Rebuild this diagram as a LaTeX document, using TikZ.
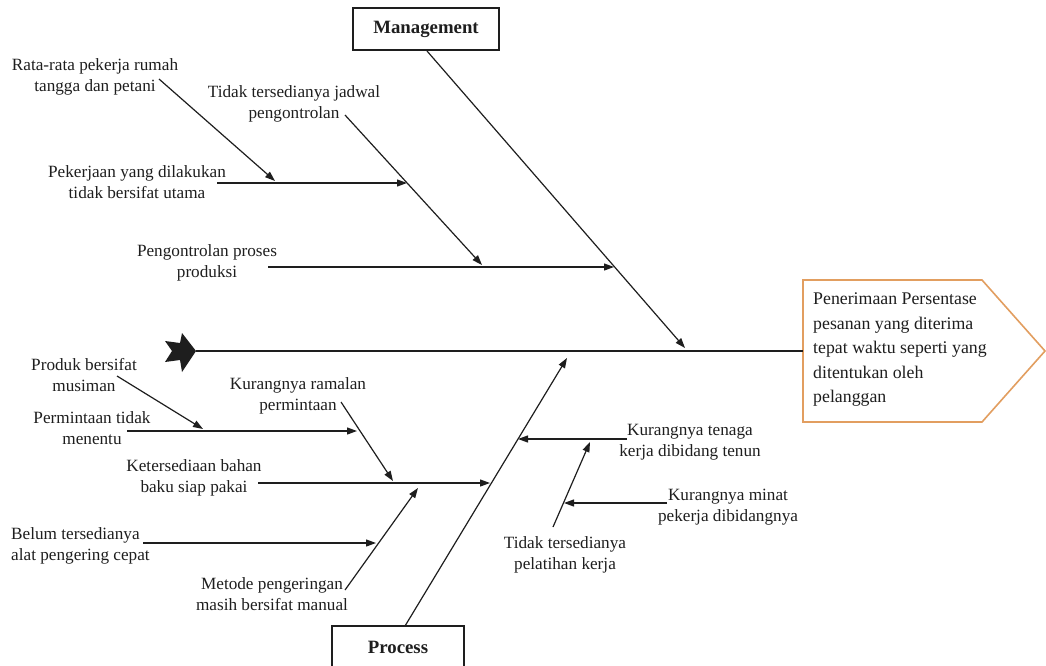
\documentclass[tikz,border=0pt]{standalone}
\usepackage{fontspec}
\setmainfont{Liberation Serif}
\usetikzlibrary{arrows.meta}
\definecolor{effectedge}{RGB}{226,158,96}
\definecolor{ink}{RGB}{30,30,30}
\newcommand\causefont{\fontsize{17.2}{21.5}\selectfont}
\newcommand\effectfont{\fontsize{17.8}{24.5}\selectfont}
\newcommand\catfont{\fontsize{18.8}{22}\selectfont\bfseries}
\begin{document}
\begin{tikzpicture}[x=1pt,y=-1pt,
  bone/.style={draw=ink,line width=1.2pt},
  cause/.style={bone,-{Triangle[length=10pt,width=7pt]}},
  spine/.style={draw=ink,line width=2.6pt},
  lbl/.style={font=\causefont,align=center,inner sep=0pt,text=ink},
  catbox/.style={draw=ink,line width=1.6pt,fill=white,font=\catfont,text=ink}]
\useasboundingbox (0,0) rectangle (1046,666);

% category boxes
\node[catbox,minimum width=146pt,minimum height=42pt] (mgmt) at (426,29) {Management};
\draw[catbox] (332,626) rectangle (464,670);
\node[font=\catfont,text=ink] (proc) at (398,647) {Process};

% effect box (pentagon pointing right)
\coordinate (e1) at (803,280);
\coordinate (e2) at (982,280);
\coordinate (e3) at (1045,351);
\coordinate (e4) at (982,422);
\coordinate (e5) at (803,422);
\draw[effectedge,line width=1.6pt,fill=white] (e1) -- (e2) -- (e3) -- (e4) -- (e5) -- cycle;
\node[font=\effectfont,align=left,anchor=west,inner sep=0pt,text=ink] (effect) at (813,350)
  {Penerimaan Persentase\\pesanan yang diterima\\tepat waktu seperti yang\\ditentukan oleh\\pelanggan};

% fish tail and spine
\coordinate (tail) at (196,351);
\coordinate (head) at (803,351);
\fill[ink] (196,351) -- (182,333) -- (180,343) -- (165,341) -- (172,351)
  -- (165,362) -- (180,360) -- (182,372) -- cycle;
\draw[spine] (tail) -- (head);

% main bones
\coordinate (mgmtS) at (427,51);
\coordinate (mgmtE) at (685,348);
\coordinate (procS) at (405,626);
\coordinate (procE) at (567,358);
\draw[cause] (mgmtS) -- (mgmtE);
\draw[cause] (procS) -- (procE);

% Management causes
\node[lbl] (t1) at (95,77) {Rata-rata pekerja rumah\\tangga dan petani};
\node[lbl] (t2) at (294,104) {Tidak tersedianya jadwal\\pengontrolan};
\node[lbl] (t3) at (137,182) {Pekerjaan yang dilakukan\\tidak bersifat utama};
\node[lbl] (t4) at (207,263) {Pengontrolan proses\\produksi};

\coordinate (m1s) at (345,115);  \coordinate (m1e) at (482,265);
\coordinate (h1s) at (217,183);  \coordinate (h1e) at (407,183);
\coordinate (d1s) at (159,79);   \coordinate (d1e) at (275,181);
\coordinate (h2s) at (268,267);  \coordinate (h2e) at (614,267);
\draw[cause] (m1s) -- (m1e);
\draw[cause] (h1s) -- (h1e);
\draw[cause] (d1s) -- (d1e);
\draw[cause] (h2s) -- (h2e);

% Process causes
\node[lbl] (p1) at (84,375) {Produk bersifat\\musiman};
\node[lbl] (p2) at (92,428) {Permintaan tidak\\menentu};
\node[lbl] (p3) at (298,396) {Kurangnya ramalan\\permintaan};
\node[lbl] (p4) at (194,478) {Ketersediaan bahan\\baku siap pakai};
\node[lbl,align=left,anchor=west] (p5) at (11,546) {Belum tersedianya\\alat pengering cepat};
\node[lbl] (p6) at (272,594) {Metode pengeringan\\masih bersifat manual};
\node[lbl] (p7) at (690,442) {Kurangnya tenaga\\kerja dibidang tenun};
\node[lbl] (p8) at (565,555) {Tidak tersedianya\\pelatihan kerja};
\node[lbl] (p9) at (728,507) {Kurangnya minat\\pekerja dibidangnya};

\coordinate (h3s) at (127,431);  \coordinate (h3e) at (357,431);
\coordinate (d2s) at (117,376);  \coordinate (d2e) at (203,429);
\coordinate (d3s) at (341,402);  \coordinate (d3e) at (393,481);
\coordinate (h4s) at (258,483);  \coordinate (h4e) at (490,483);
\coordinate (d4s) at (345,590);  \coordinate (d4e) at (418,488);
\coordinate (h5s) at (143,543);  \coordinate (h5e) at (376,543);
\coordinate (h6s) at (627,439);  \coordinate (h6e) at (518,439);
\coordinate (d5s) at (553,527);  \coordinate (d5e) at (590,442);
\coordinate (h7s) at (667,503);  \coordinate (h7e) at (564,503);
\draw[cause] (h3s) -- (h3e);
\draw[cause] (d2s) -- (d2e);
\draw[cause] (d3s) -- (d3e);
\draw[cause] (h4s) -- (h4e);
\draw[cause] (d4s) -- (d4e);
\draw[cause] (h5s) -- (h5e);
\draw[cause] (h6s) -- (h6e);
\draw[cause] (d5s) -- (d5e);
\draw[cause] (h7s) -- (h7e);
\end{tikzpicture}
\end{document}
